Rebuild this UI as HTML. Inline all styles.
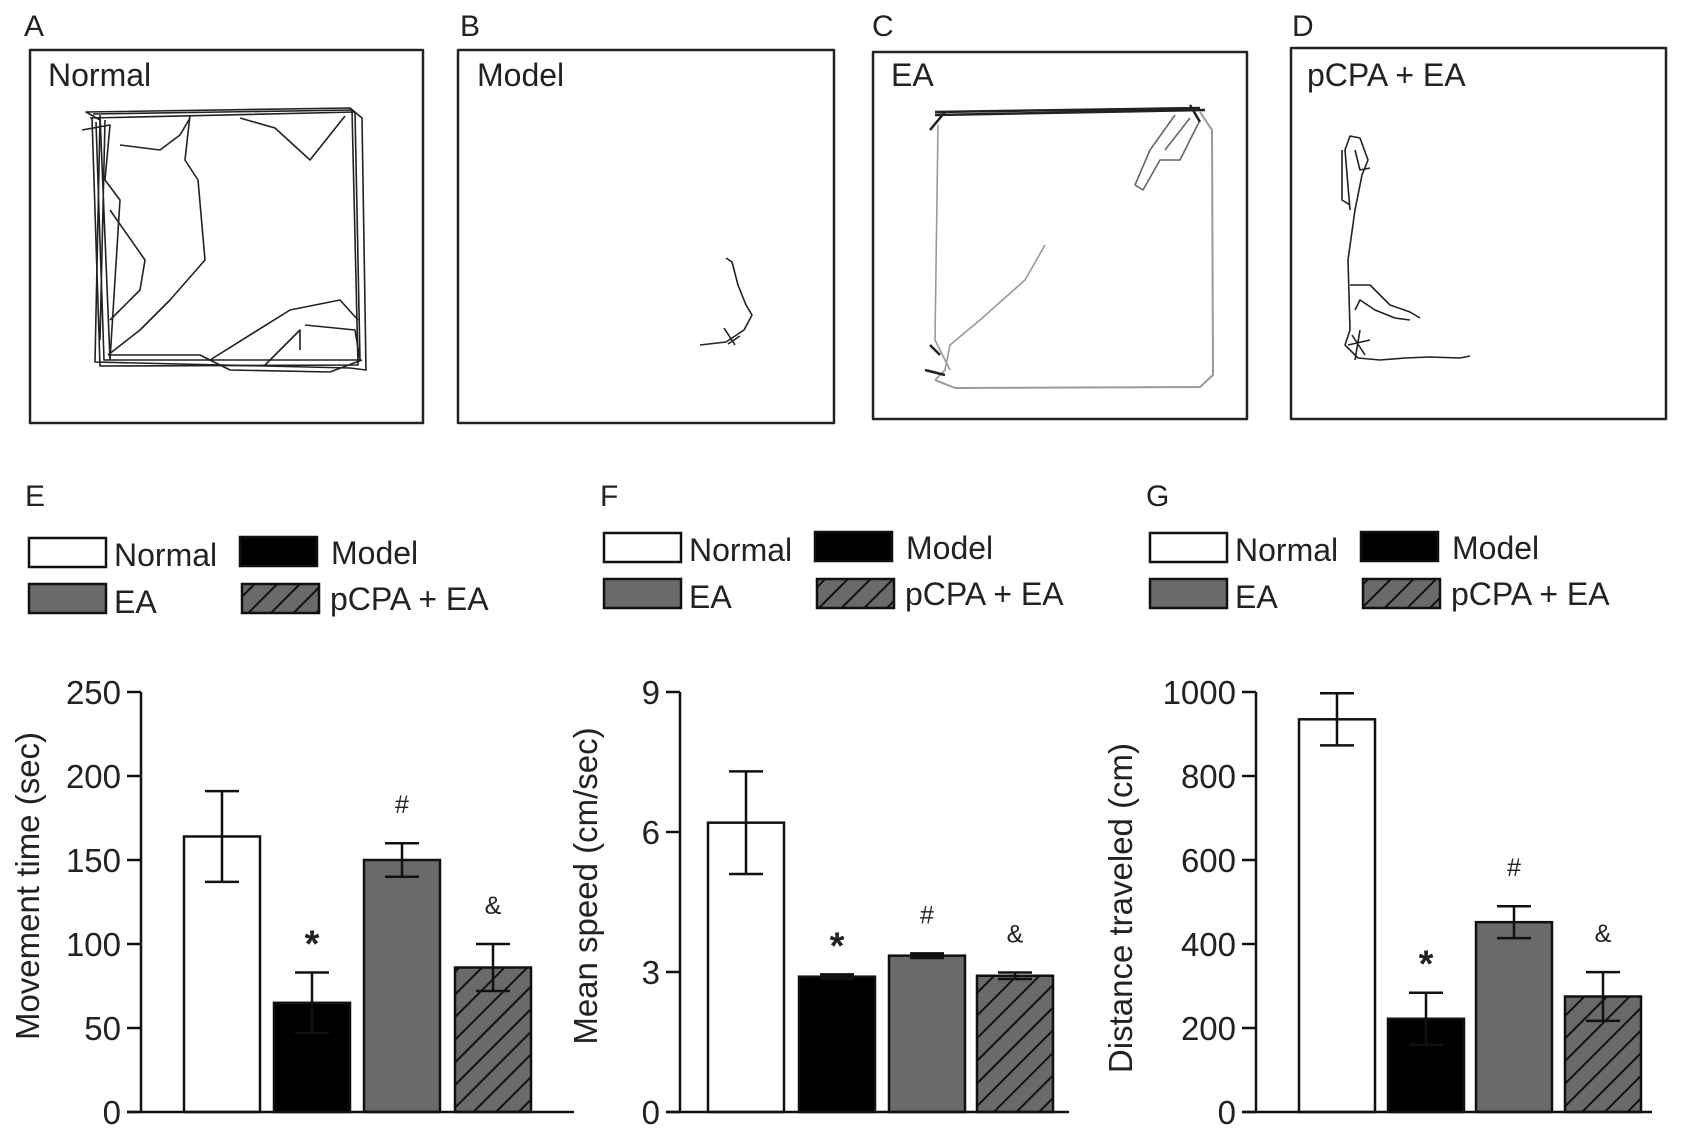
<!DOCTYPE html>
<html><head><meta charset="utf-8"><style>
body{margin:0;background:#fff;}
svg{display:block;font-family:"Liberation Sans",Arial,sans-serif;}
</style></head><body>
<svg id="fig" width="1694" height="1139" viewBox="0 0 1694 1139" xmlns="http://www.w3.org/2000/svg">
<defs>
<pattern id="hatch" patternUnits="userSpaceOnUse" width="16" height="16" patternTransform="rotate(45)">
<rect width="16" height="16" fill="#6a6a6a"/><line x1="0" y1="0" x2="0" y2="16" stroke="#111" stroke-width="4"/>
</pattern>
</defs>
<g fill="none" stroke-width="1.6" stroke-linejoin="round">
<text x="24" y="36" font-size="30" fill="#222" stroke="none">A</text>
<rect x="30" y="50" width="393" height="373" stroke="#222" stroke-width="2.5"/>
<text x="48" y="86" font-size="32" fill="#222" stroke="none">Normal</text>
<g stroke="#222">
<path d="M86 112 L350 108 L362 118 L366 370 L350 368 L95 362 L100 120 Z"/>
<path d="M90 118 L355 112 L360 360 L104 360 L96 122"/>
<path d="M93 114 L352 110 L358 365 L100 366 L92 118"/>
<path d="M100 115 L110 360 M105 120 L100 340 M82 130 L110 125 L105 180 L120 200 L110 360"/>
<path d="M190 115 L185 160 L198 180 L205 260 L170 300 L140 330 L108 355"/>
<path d="M120 145 L160 150 L180 135 L190 118"/>
<path d="M110 210 L145 260 L140 290 L110 320"/>
<path d="M240 118 L275 128 L310 160 L345 116"/>
<path d="M210 360 L290 310 L340 300 L358 320"/>
<path d="M265 365 L300 330 L300 350 M305 325 L355 330 L360 360"/>
<path d="M108 355 L200 355 L230 370 L330 372 L362 360"/>
</g>
<text x="460" y="36" font-size="30" fill="#222" stroke="none">B</text>
<rect x="458" y="50" width="376" height="373" stroke="#222" stroke-width="2.5"/>
<text x="477" y="86" font-size="32" fill="#222" stroke="none">Model</text>
<path stroke="#222" d="M726 258 L732 262 L738 285 L746 305 L752 315 L744 330 L735 336 L726 342 L700 345 M724 328 L735 345 M740 336 L728 344"/>
<text x="872" y="36" font-size="30" fill="#222" stroke="none">C</text>
<rect x="873" y="52" width="374" height="367" stroke="#222" stroke-width="2.5"/>
<text x="891" y="86" font-size="32" fill="#222" stroke="none">EA</text>
<g>
<path stroke="#999" stroke-width="2" d="M1200 112 L1212 130 L1213 375 L1200 387 L955 388 L935 380"/>
<path stroke="#999" d="M1045 245 L1025 280 L980 320 L950 345 L945 370 L935 380"/>
<path stroke="#999" d="M938 125 L935 340 L950 370"/>
<path stroke="#666" d="M1175 115 L1150 150 L1135 185 L1143 190 L1160 160 L1180 160 L1200 120 M1190 118 L1165 150"/>
<path stroke="#222" stroke-width="2.5" d="M935 115 L1205 110 M935 112 L1200 108 M930 130 L945 112 M1190 105 L1200 122 M930 345 L940 355 M925 370 L945 375"/>
</g>
<text x="1292" y="36" font-size="30" fill="#222" stroke="none">D</text>
<rect x="1291" y="48" width="375" height="371" stroke="#222" stroke-width="2.5"/>
<text x="1307" y="86" font-size="32" fill="#222" stroke="none">pCPA + EA</text>
<g stroke="#222">
<path d="M1350 210 L1345 150 L1350 136 L1360 138 L1368 160 L1362 175 L1355 210 L1348 260 L1350 330 L1345 345 L1358 358 L1380 360 L1405 358 L1430 357 L1460 358 L1470 356"/>
<path d="M1342 150 L1342 200 L1350 205 M1355 150 L1360 170 L1370 168"/>
<path d="M1350 285 L1370 285 L1390 305 L1410 312 L1420 318 M1355 310 L1360 300 L1375 310 L1395 318 L1410 320"/>
<path d="M1352 335 L1365 355 M1348 345 L1370 340 M1360 330 L1355 360"/>
</g>
</g>
<g id="charts"></g>
</svg>
<script>
const categories = ["Normal", "Model", "EA", "pCPA + EA"];
const timeValues = [164, 65, 150, 86];
const timeErrors = [27, 18, 10, 14];
const speedValues = [6.2, 2.9, 3.35, 2.92];
const speedErrors = [1.1, 0.05, 0.05, 0.07];
const distValues = [935, 222, 452, 275];
const distErrors = [62, 62, 38, 58];
const timeTicks = [0, 50, 100, 150, 200, 250];
const speedTicks = [0, 3, 6, 9];
const distTicks = [0, 200, 400, 600, 800, 1000];
const sigMarks = ["", "*", "#", "&"];

const NS = "http://www.w3.org/2000/svg";
const root = document.getElementById('charts');
const fills = ["#fff", "#000", "#6a6a6a", "url(#hatch)"];
function mk(tag, attrs, parent) {
  const e = document.createElementNS(NS, tag);
  for (const k in attrs) e.setAttribute(k, attrs[k]);
  parent.appendChild(e);
  return e;
}
const panels = [
  {id:"e", letter:"E", ax:141, dx:0, legY:0, barX:[184,274,364,455], axEnd:574, vals:timeValues, errs:timeErrors, ticks:timeTicks, max:250, title:"Movement time (sec)", tx:28, tyOff:0},
  {id:"f", letter:"F", ax:680, dx:575, legY:-5, barX:[708,799,889,977], axEnd:1069, vals:speedValues, errs:speedErrors, ticks:speedTicks, max:9, title:"Mean speed (cm/sec)", tx:586, tyOff:0},
  {id:"g", letter:"G", ax:1256, dx:1121, legY:-5, barX:[1299,1388,1476,1565], axEnd:1652, vals:distValues, errs:distErrors, ticks:distTicks, max:1000, title:"Distance traveled (cm)", tx:1121, tyOff:22}
];
const y0 = 1112, yTop = 692, bw = 76;
panels.forEach(p => {
  const g = mk('g', {}, root);
  
  
  const yS = v => y0 - (v / p.max) * (y0 - yTop);
  const lt = mk('text', {x: 25 + p.dx, y: 506, 'font-size': 30, fill: '#222'}, g);
  lt.textContent = p.letter;
  
  
  const lg = mk('g', {}, g);
  
  
  const pos = [[29,538],[240,537],[29,584],[242,584]];
  const tpos = [[114,566],[331,564],[114,613],[330,610]];
  categories.forEach((c, i) => {
    const r = mk('rect', {x: pos[i][0] + p.dx, y: pos[i][1] + p.legY, width: 77, height: 29, fill: fills[i], stroke: '#111', 'stroke-width': 2.5}, lg);
    
    
    const t = mk('text', {x: tpos[i][0] + p.dx, y: tpos[i][1] + p.legY, 'font-size': 32, fill: '#222'}, lg);
    t.textContent = c;
    
    
  });
  p.vals.forEach((v, i) => {
    const x = p.barX[i];
    const b = mk('rect', {x: x, y: yS(v), width: bw, height: y0 - yS(v), fill: fills[i], stroke: '#111', 'stroke-width': 2.5}, g);
    
    
    const cx = x + bw / 2, hi = yS(v + p.errs[i]), lo = yS(v - p.errs[i]);
    const eb = mk('path', {d: `M${cx} ${hi} L${cx} ${lo} M${cx-17} ${hi} L${cx+17} ${hi} M${cx-17} ${lo} L${cx+17} ${lo}`, stroke: '#111', 'stroke-width': 2.5, fill: 'none'}, g);
    
    
    if (sigMarks[i]) {
      const star = sigMarks[i] === "*";
      const s = mk('text', {x: cx, y: hi - (star ? 16 : 30), 'text-anchor': 'middle', 'font-size': star ? 38 : 25, 'font-weight': star ? 'bold' : 'normal', fill: '#222'}, g);
      s.textContent = sigMarks[i];
      
      
    }
  });
  const ax = mk('path', {d: `M${p.ax} ${yTop} L${p.ax} ${y0} M${p.ax-14} ${y0} L${p.axEnd} ${y0}`, stroke: '#111', 'stroke-width': 2.5, fill: 'none'}, g);
  
  
  p.ticks.forEach(t => {
    const y = yS(t);
    const tk = mk('line', {x1: p.ax - 14, x2: p.ax, y1: y, y2: y, stroke: '#111', 'stroke-width': 2.5}, g);
    
    
    const tl = mk('text', {x: p.ax - 20, y: y + 12, 'text-anchor': 'end', 'font-size': 33, fill: '#222'}, g);
    tl.textContent = t;
    
    
  });
  const cy = (yTop + y0) / 2 - 16 + p.tyOff;
  const yt = mk('text', {x: p.tx, y: cy, transform: `rotate(-90 ${p.tx} ${cy}) translate(0 11)`, 'text-anchor': 'middle', 'font-size': 33, fill: '#222'}, g);
  yt.textContent = p.title;
  
  
});
</script>
</body></html>
